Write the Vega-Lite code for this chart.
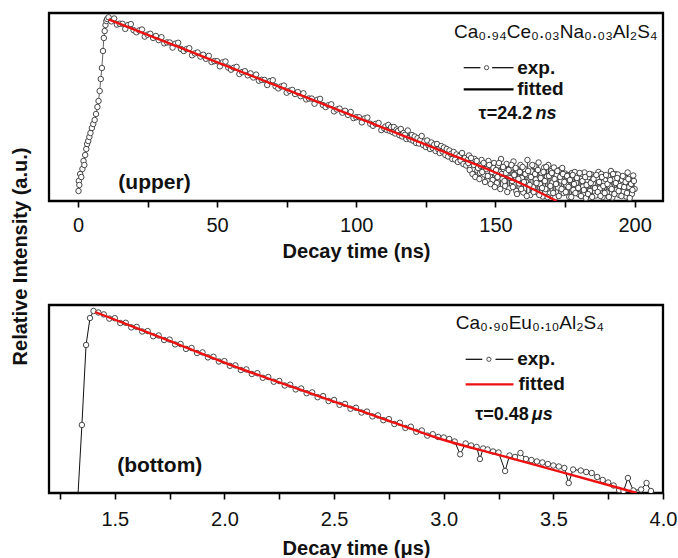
{
  "$schema": "https://vega.github.io/schema/vega-lite/v6.json",
  "autosize": {"type": "pad"},
  "padding": {"left": 8, "top": 11, "right": 0, "bottom": 0},
  "background": "white",
  "bounds": "flush",
  "spacing": 104,
  "config": {
    "view": {"stroke": "black", "strokeWidth": 2.3},
    "font": "Liberation Sans",
    "axis": {
      "labelFont": "Liberation Sans", "labelFontSize": 20, "labelColor": "#111", "labelFlush": false,
      "titleFont": "Liberation Sans", "titleFontSize": 20, "titleFontWeight": "bold", "titleColor": "#111",
      "tickColor": "black", "tickWidth": 1.6, "tickSize": 6, "grid": false, "domain": false
    },
    "text": {"font": "Liberation Sans", "color": "#111"}
  },
  "datasets": {
    "up": [
      {"t":0.2,"v":10},{"t":0.3,"v":20},{"t":0.5,"v":16},{"t":0.8,"v":27},{"t":1.2,"v":24},{"t":1.6,"v":32},{"t":2.0,"v":40},{"t":2.3,"v":36},{"t":2.6,"v":46},{"t":3.0,"v":52},{"t":3.3,"v":57},{"t":3.7,"v":60},{"t":4.1,"v":64},{"t":4.5,"v":68},{"t":5.0,"v":73},{"t":5.5,"v":77},{"t":6.0,"v":81},{"t":6.5,"v":87},{"t":7.0,"v":94},{"t":7.4,"v":100},{"t":7.8,"v":110},{"t":8.2,"v":122},{"t":8.6,"v":133},{"t":9.0,"v":150},{"t":9.3,"v":163},{"t":9.6,"v":170},{"t":9.9,"v":176},{"t":10.2,"v":180},{"t":10.5,"v":182},
      {"t":11,"v":183.7},{"t":12,"v":179.6},{"t":13,"v":182.5},{"t":14,"v":176.4},{"t":15,"v":177.3},{"t":16,"v":177.2},{"t":17,"v":172.1},{"t":18,"v":176.0},{"t":19,"v":176.9},{"t":20,"v":170.8},
      {"t":21,"v":168.7},{"t":22,"v":170.6},{"t":23,"v":171.5},{"t":24,"v":164.4},{"t":25,"v":166.3},{"t":26,"v":167.2},{"t":27,"v":163.1},{"t":28,"v":165.0},{"t":29,"v":160.9},{"t":30,"v":163.8},
      {"t":31,"v":157.7},{"t":32,"v":158.6},{"t":33,"v":158.5},{"t":34,"v":153.4},{"t":35,"v":157.3},{"t":36,"v":158.2},{"t":37,"v":152.1},{"t":38,"v":150.0},{"t":39,"v":151.9},{"t":40,"v":152.8},
      {"t":41,"v":145.7},{"t":42,"v":147.6},{"t":43,"v":148.5},{"t":44,"v":144.4},{"t":45,"v":146.3},{"t":46,"v":142.2},{"t":47,"v":145.1},{"t":48,"v":139.0},{"t":49,"v":139.9},{"t":50,"v":139.8},
      {"t":51,"v":134.7},{"t":52,"v":138.6},{"t":53,"v":139.5},{"t":54,"v":133.4},{"t":55,"v":131.3},{"t":56,"v":133.2},{"t":57,"v":134.1},{"t":58,"v":127.0},{"t":59,"v":128.9},{"t":60,"v":129.8},
      {"t":61,"v":125.7},{"t":62,"v":127.6},{"t":63,"v":123.5},{"t":64,"v":126.4},{"t":65,"v":120.3},{"t":66,"v":121.2},{"t":67,"v":121.1},{"t":68,"v":116.0},{"t":69,"v":119.9},{"t":70,"v":120.8},
      {"t":71,"v":114.7},{"t":72,"v":112.6},{"t":73,"v":114.5},{"t":74,"v":115.4},{"t":75,"v":108.3},{"t":76,"v":110.2},{"t":77,"v":111.1},{"t":78,"v":107.0},{"t":79,"v":108.9},{"t":80,"v":104.8},
      {"t":81,"v":107.7},{"t":82,"v":101.6},{"t":83,"v":102.5},{"t":84,"v":102.4},{"t":85,"v":97.3},{"t":86,"v":101.2},{"t":87,"v":102.1},{"t":88,"v":96.0},{"t":89,"v":93.9},{"t":90,"v":95.8},
      {"t":91,"v":96.7},{"t":92,"v":89.6},{"t":93,"v":91.5},{"t":94,"v":92.4},{"t":95,"v":88.3},{"t":96,"v":90.2},{"t":97,"v":86.1},{"t":98,"v":89.0},{"t":99,"v":82.9},{"t":100,"v":83.8},
      {"t":101,"v":83.7},{"t":102,"v":78.6},{"t":103,"v":82.5},{"t":104,"v":83.4},{"t":105,"v":77.3},{"t":106,"v":75.2},{"t":107,"v":77.1},{"t":108,"v":78.0},{"t":109,"v":70.9},{"t":110,"v":72.8},
      {"t":110.5,"v":74.5},{"t":111,"v":71.0},{"t":111.5,"v":76.0},{"t":112,"v":70.2},{"t":112.5,"v":73.8},{"t":113,"v":69.0},{"t":113.5,"v":74.0},{"t":114,"v":67.5},{"t":114.5,"v":71.5},{"t":115,"v":70.0},
      {"t":115.5,"v":65.8},{"t":116,"v":72.0},{"t":116.5,"v":64.5},{"t":117,"v":68.0},{"t":117.5,"v":66.2},{"t":118,"v":62.0},{"t":118.5,"v":70.5},{"t":119,"v":63.0},{"t":119.5,"v":61.5},{"t":120,"v":66.0},
      {"t":120.5,"v":60.2},{"t":121,"v":64.5},{"t":121.5,"v":58.0},{"t":122,"v":62.8},{"t":122.5,"v":57.5},{"t":123,"v":61.0},{"t":123.5,"v":65.0},{"t":124,"v":56.0},{"t":124.5,"v":59.5},{"t":125,"v":54.0},
      {"t":125.5,"v":60.5},{"t":126,"v":55.5},{"t":126.5,"v":52.0},{"t":127,"v":58.5},{"t":127.5,"v":53.0},{"t":128,"v":56.5},{"t":128.5,"v":50.0},{"t":129,"v":57.0},{"t":129.5,"v":51.5},{"t":130,"v":48.0},
      {"t":130.5,"v":55.0},{"t":131,"v":49.5},{"t":131.5,"v":53.5},{"t":132,"v":46.0},{"t":132.5,"v":52.0},{"t":133,"v":44.5},{"t":133.5,"v":50.5},{"t":134,"v":47.0},{"t":134.5,"v":42.0},{"t":135,"v":49.0},
      {"t":135.5,"v":41.5},{"t":136,"v":46.5},{"t":136.5,"v":39.0},{"t":137,"v":45.0},{"t":137.5,"v":40.5},{"t":138,"v":48.0},{"t":138.5,"v":37.0},{"t":139,"v":43.0},{"t":139.5,"v":35.5},{"t":140,"v":41.0},
      {"t":140.5,"v":45.5},{"t":141,"v":34.0},{"t":141.5,"v":39.5},{"t":142,"v":32.0},{"t":142.5,"v":42.0},{"t":143,"v":36.0},{"t":143.5,"v":30.5},{"t":144,"v":38.5},{"t":144.5,"v":28.0},{"t":145,"v":41.0},
      {"t":145.5,"v":33.0},{"t":146,"v":26.5},{"t":146.5,"v":37.0},{"t":147,"v":30.0},{"t":147.5,"v":40.0},{"t":148,"v":24.5},{"t":148.5,"v":34.5},{"t":149,"v":21.0},{"t":149.5,"v":38.0},{"t":150,"v":27.5},
      {"t":150.5,"v":18.0},{"t":151,"v":35.5},{"t":151.5,"v":29.0},{"t":152,"v":42.0},{"t":152.5,"v":22.5},{"t":153,"v":31.5},{"t":153.5,"v":15.0},{"t":154,"v":37.0},{"t":154.5,"v":25.0},{"t":155,"v":12.5},
      {"t":155.5,"v":33.0},{"t":156,"v":20.0},{"t":156.5,"v":39.5},{"t":157,"v":27.0},{"t":157.5,"v":10.0},{"t":158,"v":30.5},{"t":158.5,"v":17.5},{"t":159,"v":36.0},{"t":159.5,"v":23.0},{"t":160,"v":8.5},
      {"t":160.5,"v":32.0},{"t":161,"v":19.0},{"t":161.5,"v":41.0},{"t":162,"v":26.0},{"t":162.5,"v":6.0},{"t":163,"v":29.5},{"t":163.5,"v":14.0},{"t":164,"v":35.0},{"t":164.5,"v":21.5},{"t":165,"v":9.0},
      {"t":165.5,"v":38.5},{"t":166,"v":17.0},{"t":166.5,"v":28.0},{"t":167,"v":4.5},{"t":167.5,"v":33.5},{"t":168,"v":12.0},{"t":168.5,"v":24.5},{"t":169,"v":36.0},{"t":169.5,"v":7.5},{"t":170,"v":30.0},
      {"t":170.5,"v":18.5},{"t":171,"v":33.5},{"t":171.5,"v":3.5},{"t":172,"v":26.0},{"t":172.5,"v":13.5},{"t":173,"v":31.0},{"t":173.5,"v":20.5},{"t":174,"v":33.0},{"t":174.5,"v":8.0},{"t":175,"v":27.5},
      {"t":175.5,"v":16.0},{"t":176,"v":26.0},{"t":176.5,"v":4.0},{"t":177,"v":22.5},{"t":177.5,"v":28.0},{"t":178,"v":11.0},{"t":178.5,"v":29.0},{"t":179,"v":18.0},{"t":179.5,"v":25.0},{"t":180,"v":6.5},
      {"t":180.5,"v":24.0},{"t":181,"v":27.0},{"t":181.5,"v":14.5},{"t":182,"v":28.5},{"t":182.5,"v":3.0},{"t":183,"v":21.0},{"t":183.5,"v":24.0},{"t":184,"v":10.0},{"t":184.5,"v":26.5},{"t":185,"v":17.5},
      {"t":185.5,"v":24.0},{"t":186,"v":5.5},{"t":186.5,"v":23.0},{"t":187,"v":29.0},{"t":187.5,"v":12.5},{"t":188,"v":27.0},{"t":188.5,"v":4.0},{"t":189,"v":19.5},{"t":189.5,"v":22.0},{"t":190,"v":8.5},
      {"t":190.5,"v":25.0},{"t":191,"v":15.0},{"t":191.5,"v":30.0},{"t":192,"v":3.5},{"t":192.5,"v":21.5},{"t":193,"v":27.0},{"t":193.5,"v":11.0},{"t":194,"v":26.5},{"t":194.5,"v":6.0},{"t":195,"v":18.0},
      {"t":195.5,"v":21.0},{"t":196,"v":9.5},{"t":196.5,"v":23.5},{"t":197,"v":4.5},{"t":197.5,"v":28.5},{"t":198,"v":14.0},{"t":198.5,"v":20.0},{"t":199,"v":7.0},{"t":199.5,"v":25.5},{"t":200,"v":12.0},
      {"t":140.25,"v":38},{"t":140.75,"v":31},{"t":141.25,"v":43},{"t":141.75,"v":27},{"t":142.25,"v":36},{"t":142.75,"v":24},{"t":143.25,"v":40},{"t":143.75,"v":33},{"t":144.25,"v":22},{"t":144.75,"v":35},
      {"t":145.25,"v":29},{"t":145.75,"v":38},{"t":146.25,"v":19},{"t":146.75,"v":32},{"t":147.25,"v":25},{"t":147.75,"v":36},{"t":148.25,"v":17},{"t":148.75,"v":29},{"t":149.25,"v":33},{"t":149.75,"v":14},
      {"t":150.25,"v":31},{"t":150.75,"v":24},{"t":151.25,"v":38},{"t":151.75,"v":12},{"t":152.25,"v":27},{"t":152.75,"v":34},{"t":153.25,"v":20},{"t":153.75,"v":28},{"t":154.25,"v":9},{"t":154.75,"v":31},
      {"t":155.25,"v":23},{"t":155.75,"v":36},{"t":156.25,"v":14},{"t":156.75,"v":26},{"t":157.25,"v":33},{"t":157.75,"v":7},{"t":158.25,"v":22},{"t":158.75,"v":29},{"t":159.25,"v":12},{"t":159.75,"v":34},
      {"t":160.25,"v":19},{"t":160.75,"v":27},{"t":161.25,"v":5},{"t":161.75,"v":30},{"t":162.25,"v":16},{"t":162.75,"v":24},{"t":163.25,"v":36},{"t":163.75,"v":9},{"t":164.25,"v":27},{"t":164.75,"v":18},
      {"t":165.25,"v":31},{"t":165.75,"v":6},{"t":166.25,"v":23},{"t":166.75,"v":13},{"t":167.25,"v":29},{"t":167.75,"v":20},{"t":168.25,"v":34},{"t":168.75,"v":4},{"t":169.25,"v":25},{"t":169.75,"v":15},
      {"t":170.25,"v":28},{"t":170.75,"v":8},{"t":171.25,"v":22},{"t":171.75,"v":17},{"t":172.25,"v":30},{"t":172.75,"v":5},{"t":173.25,"v":24},{"t":173.75,"v":12},{"t":174.25,"v":27},{"t":174.75,"v":19},
      {"t":175.25,"v":9},{"t":175.75,"v":25},{"t":176.25,"v":14},{"t":176.75,"v":21},{"t":177.25,"v":4},{"t":177.75,"v":26},{"t":178.25,"v":17},{"t":178.75,"v":8},{"t":179.25,"v":23},{"t":179.75,"v":13},
      {"t":180.25,"v":28},{"t":180.75,"v":5},{"t":181.25,"v":20},{"t":181.75,"v":11},{"t":182.25,"v":24},{"t":182.75,"v":16},{"t":183.25,"v":7},{"t":183.75,"v":27},{"t":184.25,"v":18},{"t":184.75,"v":4},
      {"t":185.25,"v":22},{"t":185.75,"v":13},{"t":186.25,"v":26},{"t":186.75,"v":9},{"t":187.25,"v":19},{"t":187.75,"v":5},{"t":188.25,"v":24},{"t":188.75,"v":15},{"t":189.25,"v":8},{"t":189.75,"v":26},
      {"t":190.25,"v":17},{"t":190.75,"v":4},{"t":191.25,"v":21},{"t":191.75,"v":12},{"t":192.25,"v":27},{"t":192.75,"v":7},{"t":193.25,"v":18},{"t":193.75,"v":23},{"t":194.25,"v":10},{"t":194.75,"v":15},
      {"t":195.25,"v":5},{"t":195.75,"v":25},{"t":196.25,"v":14},{"t":196.75,"v":19},{"t":197.25,"v":8},{"t":197.75,"v":22},{"t":198.25,"v":3},{"t":198.75,"v":17},{"t":199.25,"v":11},{"t":199.75,"v":20}
    ],
    "upfit": [
      {"t":11,"v":181.7},{"t":40,"v":149.8},{"t":70,"v":116.8},{"t":100,"v":83.8},{"t":130,"v":50.8},{"t":150,"v":28.5},{"t":160,"v":16.5},{"t":172,"v":0}
    ],
    "bot": [
      {"t":1.325,"v":-30},{"t":1.35,"v":68},{"t":1.369,"v":148},{"t":1.387,"v":175},{"t":1.403,"v":182},
      {"t":1.425,"v":180.5},{"t":1.45,"v":178.6},{"t":1.475,"v":174.4},{"t":1.5,"v":174.8},{"t":1.525,"v":170.0},{"t":1.55,"v":170.2},{"t":1.575,"v":165.6},{"t":1.6,"v":166.1},{"t":1.625,"v":161.5},{"t":1.65,"v":161.9},
      {"t":1.675,"v":156.8},{"t":1.7,"v":157.5},{"t":1.725,"v":153.0},{"t":1.75,"v":153.4},{"t":1.775,"v":148.6},{"t":1.8,"v":149.0},{"t":1.825,"v":144.1},{"t":1.85,"v":145.0},{"t":1.875,"v":140.0},{"t":1.9,"v":140.6},
      {"t":1.925,"v":135.6},{"t":1.95,"v":136.2},{"t":1.975,"v":131.5},{"t":2.0,"v":131.9},{"t":2.025,"v":127.2},{"t":2.05,"v":127.6},{"t":2.075,"v":123.0},{"t":2.1,"v":123.6},{"t":2.125,"v":119.0},{"t":2.15,"v":119.8},
      {"t":2.175,"v":115.2},{"t":2.2,"v":116.0},{"t":2.225,"v":111.3},{"t":2.25,"v":112.0},{"t":2.275,"v":107.5},{"t":2.3,"v":108.3},{"t":2.325,"v":103.6},{"t":2.35,"v":104.5},{"t":2.375,"v":99.8},{"t":2.4,"v":100.6},
      {"t":2.425,"v":95.8},{"t":2.45,"v":96.9},{"t":2.475,"v":92.0},{"t":2.5,"v":93.0},{"t":2.525,"v":88.2},{"t":2.55,"v":89.1},{"t":2.575,"v":84.3},{"t":2.6,"v":85.2},{"t":2.625,"v":80.5},{"t":2.65,"v":81.4},
      {"t":2.675,"v":76.6},{"t":2.7,"v":77.6},{"t":2.725,"v":72.8},{"t":2.75,"v":73.9},{"t":2.775,"v":69.0},{"t":2.8,"v":70.2},{"t":2.825,"v":65.1},{"t":2.85,"v":66.3},{"t":2.875,"v":61.2},{"t":2.9,"v":62.5},
      {"t":2.925,"v":57.4},{"t":2.95,"v":58.8},{"t":2.975,"v":56.0},{"t":3.0,"v":55.5},{"t":3.025,"v":54.0},{"t":3.05,"v":51.5},{"t":3.075,"v":38.7},{"t":3.1,"v":49.5},{"t":3.125,"v":47.5},{"t":3.15,"v":46.0},
      {"t":3.165,"v":34.0},{"t":3.18,"v":44.5},{"t":3.2,"v":43.5},{"t":3.225,"v":41.5},{"t":3.25,"v":40.5},{"t":3.28,"v":22.0},{"t":3.3,"v":37.5},{"t":3.325,"v":36.0},{"t":3.35,"v":40.0},{"t":3.375,"v":34.0},
      {"t":3.4,"v":33.0},{"t":3.425,"v":31.5},{"t":3.45,"v":30.5},{"t":3.475,"v":29.0},{"t":3.5,"v":27.5},{"t":3.525,"v":26.5},{"t":3.55,"v":25.0},{"t":3.57,"v":10.0},{"t":3.59,"v":23.5},{"t":3.625,"v":22.5},
      {"t":3.65,"v":21.0},{"t":3.675,"v":20.0},{"t":3.7,"v":16.0},{"t":3.725,"v":13.0},{"t":3.75,"v":10.5},{"t":3.775,"v":7.5},{"t":3.8,"v":3.0},{"t":3.82,"v":2.0},{"t":3.84,"v":15.0},{"t":3.865,"v":2.5},
      {"t":3.9,"v":3.5},{"t":3.925,"v":10.0},{"t":3.945,"v":2.0}
    ],
    "botfit": [
      {"t":1.41,"v":181},{"t":1.6,"v":164.8},{"t":1.8,"v":147.7},{"t":2.077,"v":124},{"t":2.3,"v":106.8},{"t":2.5,"v":91.4},{"t":2.75,"v":72.2},{"t":2.986,"v":54},{"t":3.25,"v":38.1},{"t":3.5,"v":23.1},{"t":3.75,"v":8.0},{"t":3.88,"v":0}
    ]
  },
  "vconcat": [
    {
      "width": 614,
      "height": 188,
      "layer": [
        {
          "data": {"name": "up"},
          "mark": {"type": "line", "color": "#222", "strokeWidth": 0.7, "clip": true},
          "encoding": {
            "x": {"field": "t", "type": "quantitative", "scale": {"domain": [-10.4, 210.2], "nice": false, "zero": false},
              "axis": {"title": "Decay time (ns)", "values": [0,25,50,75,100,125,150,175,200], "labelExpr": "datum.value % 50 === 0 ? datum.label : ''", "labelPadding": 8, "titlePadding": 6}},
            "y": {"field": "v", "type": "quantitative", "scale": {"domain": [0, 188], "nice": false, "zero": false},
              "axis": {"title": "Relative Intensity (a.u.)", "labels": false, "ticks": false, "domain": false, "titleX": -19, "titleY": 243, "titleFontSize": 20}}
          }
        },
        {
          "data": {"name": "up"},
          "mark": {"type": "point", "shape": "circle", "filled": true, "fill": "white", "stroke": "#2a2a2a", "strokeWidth": 0.85, "size": 30, "opacity": 1, "clip": true},
          "encoding": {"x": {"field": "t", "type": "quantitative"}, "y": {"field": "v", "type": "quantitative"}}
        },
        {
          "data": {"name": "upfit"},
          "mark": {"type": "line", "color": "#ee1111", "strokeWidth": 2.4, "interpolate": "monotone", "clip": true},
          "encoding": {"x": {"field": "t", "type": "quantitative"}, "y": {"field": "v", "type": "quantitative"}}
        },
        {
          "data": {"values": [{}]},
          "mark": {"type": "text", "text": "(upper)", "fontSize": 21, "fontWeight": "bold", "align": "center", "baseline": "middle"},
          "encoding": {"x": {"datum": 27.5}, "y": {"datum": 18}}
        },
        {
          "data": {"values": [{}]},
          "mark": {"type": "text", "text": "Ca₀.₉₄Ce₀.₀₃Na₀.₀₃Al₂S₄", "fontSize": 19, "align": "left", "baseline": "alphabetic"},
          "encoding": {"x": {"datum": 135.1}, "y": {"datum": 163.3}}
        },
        {
          "data": {"values": [{}]},
          "mark": {"type": "rule", "color": "black", "strokeWidth": 1.2},
          "encoding": {"x": {"datum": 138.6}, "x2": {"datum": 144.6}, "y": {"datum": 133.3}}
        },
        {
          "data": {"values": [{}]},
          "mark": {"type": "rule", "color": "black", "strokeWidth": 1.2},
          "encoding": {"x": {"datum": 148.8}, "x2": {"datum": 156.5}, "y": {"datum": 133.3}}
        },
        {
          "data": {"values": [{}]},
          "mark": {"type": "point", "shape": "circle", "filled": true, "fill": "white", "stroke": "#2a2a2a", "strokeWidth": 0.8, "size": 18, "opacity": 1},
          "encoding": {"x": {"datum": 146.8}, "y": {"datum": 133.3}}
        },
        {
          "data": {"values": [{}]},
          "mark": {"type": "text", "text": "exp.", "fontSize": 19, "fontWeight": "bold", "align": "left", "baseline": "middle"},
          "encoding": {"x": {"datum": 157.8}, "y": {"datum": 133.3}}
        },
        {
          "data": {"values": [{}]},
          "mark": {"type": "rule", "color": "black", "strokeWidth": 2.2},
          "encoding": {"x": {"datum": 138.6}, "x2": {"datum": 156.5}, "y": {"datum": 111.7}}
        },
        {
          "data": {"values": [{}]},
          "mark": {"type": "text", "text": "fitted", "fontSize": 19, "fontWeight": "bold", "align": "left", "baseline": "middle"},
          "encoding": {"x": {"datum": 157.8}, "y": {"datum": 111.7}}
        },
        {
          "data": {"values": [{}]},
          "mark": {"type": "text", "text": "τ=24.2", "fontSize": 18, "fontWeight": "bold", "align": "right", "baseline": "middle"},
          "encoding": {"x": {"datum": 163.2}, "y": {"datum": 86.7}}
        },
        {
          "data": {"values": [{}]},
          "mark": {"type": "text", "text": "ns", "fontSize": 18, "fontWeight": "bold", "fontStyle": "italic", "align": "left", "baseline": "middle"},
          "encoding": {"x": {"datum": 164.4}, "y": {"datum": 86.7}}
        }
      ]
    },
    {
      "width": 614,
      "height": 188,
      "layer": [
        {
          "data": {"name": "bot"},
          "mark": {"type": "line", "color": "#111", "strokeWidth": 1, "clip": true},
          "encoding": {
            "x": {"field": "t", "type": "quantitative", "scale": {"domain": [1.2, 4.0], "nice": false, "zero": false},
              "axis": {"title": "Decay time (μs)", "values": [1.25,1.5,1.75,2.0,2.25,2.5,2.75,3.0,3.25,3.5,3.75,4.0], "labelExpr": "(datum.value * 4) % 2 === 0 ? format(datum.value, '.1f') : ''", "labelPadding": 10, "titlePadding": 9}},
            "y": {"field": "v", "type": "quantitative", "scale": {"domain": [0, 188], "nice": false, "zero": false},
              "axis": {"title": null, "labels": false, "ticks": false, "domain": false}}
          }
        },
        {
          "data": {"name": "bot"},
          "mark": {"type": "point", "shape": "circle", "filled": true, "fill": "white", "stroke": "#2a2a2a", "strokeWidth": 0.85, "size": 30, "opacity": 1, "clip": true},
          "encoding": {"x": {"field": "t", "type": "quantitative"}, "y": {"field": "v", "type": "quantitative"}}
        },
        {
          "data": {"name": "botfit"},
          "mark": {"type": "line", "color": "#ee1111", "strokeWidth": 2.4, "interpolate": "monotone", "clip": true},
          "encoding": {"x": {"field": "t", "type": "quantitative"}, "y": {"field": "v", "type": "quantitative"}}
        },
        {
          "data": {"values": [{}]},
          "mark": {"type": "text", "text": "(bottom)", "fontSize": 21, "fontWeight": "bold", "align": "center", "baseline": "middle"},
          "encoding": {"x": {"datum": 1.705}, "y": {"datum": 27}}
        },
        {
          "data": {"values": [{}]},
          "mark": {"type": "text", "text": "Ca₀.₉₀Eu₀.₁₀Al₂S₄", "fontSize": 19, "align": "left", "baseline": "alphabetic"},
          "encoding": {"x": {"datum": 3.055}, "y": {"datum": 164}}
        },
        {
          "data": {"values": [{}]},
          "mark": {"type": "rule", "color": "black", "strokeWidth": 1.2},
          "encoding": {"x": {"datum": 3.1}, "x2": {"datum": 3.176}, "y": {"datum": 133.7}}
        },
        {
          "data": {"values": [{}]},
          "mark": {"type": "rule", "color": "black", "strokeWidth": 1.2},
          "encoding": {"x": {"datum": 3.236}, "x2": {"datum": 3.318}, "y": {"datum": 133.7}}
        },
        {
          "data": {"values": [{}]},
          "mark": {"type": "point", "shape": "circle", "filled": true, "fill": "white", "stroke": "#2a2a2a", "strokeWidth": 0.8, "size": 18, "opacity": 1},
          "encoding": {"x": {"datum": 3.206}, "y": {"datum": 133.7}}
        },
        {
          "data": {"values": [{}]},
          "mark": {"type": "text", "text": "exp.", "fontSize": 19, "fontWeight": "bold", "align": "left", "baseline": "middle"},
          "encoding": {"x": {"datum": 3.335}, "y": {"datum": 133.7}}
        },
        {
          "data": {"values": [{}]},
          "mark": {"type": "rule", "color": "#ee1111", "strokeWidth": 2.2},
          "encoding": {"x": {"datum": 3.1}, "x2": {"datum": 3.318}, "y": {"datum": 108.7}}
        },
        {
          "data": {"values": [{}]},
          "mark": {"type": "text", "text": "fitted", "fontSize": 19, "fontWeight": "bold", "align": "left", "baseline": "middle"},
          "encoding": {"x": {"datum": 3.341}, "y": {"datum": 108.7}}
        },
        {
          "data": {"values": [{}]},
          "mark": {"type": "text", "text": "τ=0.48", "fontSize": 18, "fontWeight": "bold", "align": "right", "baseline": "middle"},
          "encoding": {"x": {"datum": 3.388}, "y": {"datum": 78}}
        },
        {
          "data": {"values": [{}]},
          "mark": {"type": "text", "text": "μs", "fontSize": 18, "fontWeight": "bold", "fontStyle": "italic", "align": "left", "baseline": "middle"},
          "encoding": {"x": {"datum": 3.402}, "y": {"datum": 78}}
        }
      ]
    }
  ]
}
